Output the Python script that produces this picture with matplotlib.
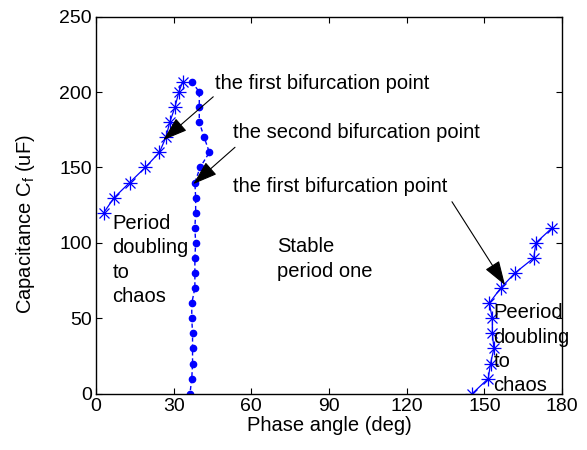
import matplotlib
matplotlib.use("Agg")
import matplotlib.pyplot as plt

plt.rcParams['font.family'] = ['Liberation Sans', 'DejaVu Sans']

# left branch (period doubling, stars)
left_x = [3, 7, 13, 19, 24.5, 27, 28.5, 30.5, 32, 33.5]
left_y = [120, 130, 140, 150, 160, 170, 180, 190, 200, 207]

# middle branch (stable period one, dots)
mid_x = [37, 39.9, 39.9, 39.9, 41.8, 43.8, 40.2, 38.2, 38.5, 38.5, 38.2,
         38.5, 38.2, 38.2, 38.2, 37, 37, 37.3, 37.3, 37.3, 37, 36.3]
mid_y = [207, 200, 190, 180, 170, 160, 150, 140, 130, 120, 110,
         100, 90, 80, 70, 60, 50, 40, 30, 20, 10, 0]

# right branch (period doubling, stars)
right_x = [145.3, 151.5, 152.4, 153.7, 153.1, 153.1, 151.9, 156.3, 161.8, 169.1, 169.9, 176.2]
right_y = [0, 10, 20, 30, 40, 50, 60, 70, 80, 90, 100, 110]

blue = '#0000ff'
fs = 14.5

fig = plt.figure(figsize=(5.87, 4.5), dpi=100)
ax = fig.add_axes([0.1635, 0.1251, 0.7939, 0.8378])

# MATLAB style asterisk markers = '+' on top of 'x'
for xs, ys in [(left_x, left_y), (right_x, right_y)]:
    ax.plot(xs, ys, color=blue, lw=0.9, marker='+', markersize=10, markeredgewidth=0.9)
    ax.plot(xs, ys, color=blue, lw=0, marker='x', markersize=7, markeredgewidth=0.9)

ax.plot(mid_x, mid_y, color=blue, lw=1.0, linestyle='--', marker='o',
        markersize=4.5, dashes=(3, 2))

ax.set_xlim(0, 180)
ax.set_ylim(0, 250)
ax.set_xticks([0, 30, 60, 90, 120, 150, 180])
ax.set_yticks([0, 50, 100, 150, 200, 250])
ax.tick_params(direction='in', top=True, right=True, labelsize=14, length=4, pad=3)
for s in ax.spines.values():
    s.set_linewidth(1.0)

ax.set_xlabel('Phase angle (deg)', fontsize=fs, labelpad=1)
ax.set_ylabel('Capacitance C$_{\\mathregular{f}}$ (uF)', fontsize=fs)
ax.yaxis.set_label_coords(-0.127, 0.45)

arrow = dict(arrowstyle='-|>,head_length=0.9,head_width=0.3', color='black',
             lw=0.8, mutation_scale=17, shrinkA=0, shrinkB=0)
ax.annotate('', xy=(26.0, 168.2), xytext=(45.3, 196.9), arrowprops=arrow)
ax.annotate('', xy=(37.6, 139.0), xytext=(53.7, 163.4), arrowprops=arrow)
ax.annotate('', xy=(158.0, 72.0), xytext=(137.5, 127.3), arrowprops=arrow)

ax.text(46.0, 205.4, 'the first bifurcation point', fontsize=fs, va='center', ha='left')
ax.text(53.0, 173.0, 'the second bifurcation point', fontsize=fs, va='center', ha='left')
ax.text(52.9, 137.3, 'the first bifurcation point', fontsize=fs, va='center', ha='left')

ax.text(6.3, 88.7, 'Period\ndoubling\nto\nchaos', fontsize=fs, va='center', ha='left',
        linespacing=1.35)
ax.text(69.8, 89.3, 'Stable\nperiod one', fontsize=fs, va='center', ha='left',
        linespacing=1.35)
ax.text(153.5, 29.5, 'Peeriod\ndoubling\nto\nchaos', fontsize=fs, va='center', ha='left',
        linespacing=1.35)

fig.savefig('out.png', dpi=100)
